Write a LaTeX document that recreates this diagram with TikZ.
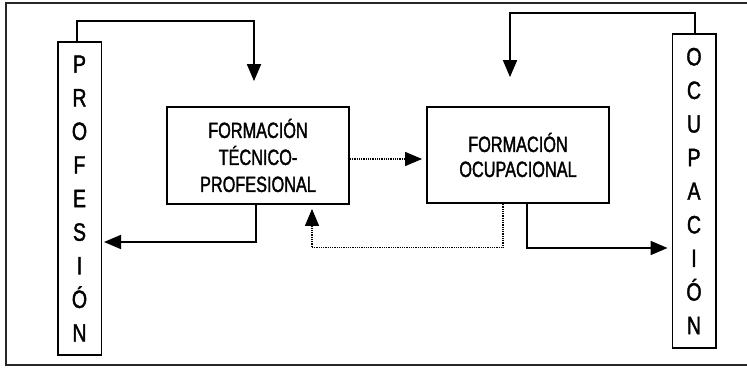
\documentclass[tikz,border=0pt]{standalone}
\usepackage{fontspec}
\setmainfont{Liberation Sans}[FakeStretch=0.78,FakeBold=1.6]
\newfontfamily\boxfont{Liberation Sans}[FakeStretch=0.74,FakeBold=1.6]
\usetikzlibrary{arrows.meta,calc}
\tikzset{
  box/.style={draw, line width=1.8pt, minimum width=182pt, inner sep=0pt, align=center, font=\boxfont\fontsize{22}{27}\selectfont},
  vbox/.style={draw, line width=1.5pt, minimum width=43.5pt, inner sep=0pt, align=center, font=\fontsize{25}{33.6}\selectfont},
  arr/.style={line width=1.8pt, -{Triangle[length=17pt,width=14pt]}},
  darr/.style={line width=1.2pt, dash pattern=on 1pt off 0.8pt, -{Triangle[length=17pt,width=14pt]}},
  frame/.style={line width=1.4pt, draw=black!85}
}
\begin{document}
\begin{tikzpicture}[x=1pt,y=1pt]
\useasboundingbox (0,0) rectangle (747,367);
\draw[frame] (750,364) -- (6,364) -- (6,2) -- (750,2);
\node[vbox, minimum height=313pt] (prof) at (79.5,168.5) {P\\R\\O\\F\\E\\S\\I\\Ó\\N};
\node[vbox, minimum height=314pt] (ocu) at (694,176) {O\\C\\U\\P\\A\\C\\I\\Ó\\N};
\node[box, minimum height=97pt] (ftp) at (258,211.5) {FORMACIÓN\\TÉCNICO-\\PROFESIONAL};
\node[box, minimum height=96pt, font=\boxfont\fontsize{22}{25}\selectfont] (fo) at (518,212) {FORMACIÓN\\OCUPACIONAL};
% connectors
\draw[arr] ([xshift=-2.5pt]prof.north) -- ++(0,20) -| ([xshift=-4pt,yshift=25pt]ftp.north);
\draw[arr] ([xshift=-2pt]ftp.south) |- ([xshift=2pt,yshift=-43.5pt]prof.east);
\draw[darr] ([yshift=-3.5pt]ftp.east) -- ([xshift=-4pt,yshift=-4pt]fo.west);
\draw[darr] ([xshift=-15pt]fo.south) -- ++(0,-44) -| ([xshift=54pt,yshift=-4pt]ftp.south);
\draw[arr] ([xshift=9pt]fo.south) |- ([xshift=-4pt,yshift=-57pt]ocu.west);
\draw[arr] ([xshift=1pt]ocu.north) -- ++(0,20) -| ([xshift=-8pt,yshift=29pt]fo.north);
\end{tikzpicture}
\end{document}
